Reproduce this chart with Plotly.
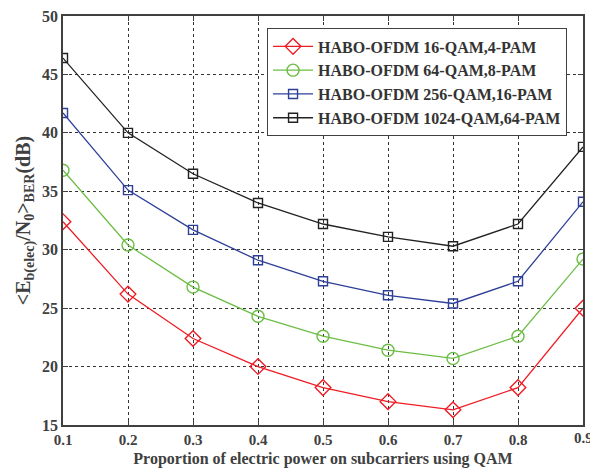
import plotly.graph_objects as go

x_vals = [0.1, 0.2, 0.3, 0.4, 0.5, 0.6, 0.7, 0.8, 0.9]
qam16 = [32.4, 26.2, 22.4, 20.0, 18.2, 17.0, 16.3, 18.2, 25.0]
qam64 = [36.8, 30.4, 26.8, 24.3, 22.6, 21.4, 20.7, 22.6, 29.2]
qam256 = [41.7, 35.1, 31.7, 29.1, 27.3, 26.1, 25.4, 27.3, 34.1]
qam1024 = [46.4, 40.0, 36.5, 34.0, 32.2, 31.1, 30.3, 32.2, 38.8]
names = ["HABO-OFDM 16-QAM,4-PAM", "HABO-OFDM 64-QAM,8-PAM",
         "HABO-OFDM 256-QAM,16-PAM", "HABO-OFDM 1024-QAM,64-PAM"]
colors = ["#ee1c25", "#6cbd45", "#2e3f98", "#222222"]
symbols = ["diamond-open", "circle-open", "square-open", "square-open"]
sizes = [12, 12, 9, 9]
x_ticks = [0.1, 0.2, 0.3, 0.4, 0.5, 0.6, 0.7, 0.8, 0.9]
y_ticks = [15, 20, 25, 30, 35, 40, 45, 50]

fig = go.Figure()
for ys, nm, c, s, sz in zip([qam16, qam64, qam256, qam1024], names, colors, symbols, sizes):
    fig.add_trace(go.Scatter(x=x_vals, y=ys, name=f"<b>{nm}</b>", mode="lines+markers",
                             line=dict(color=c, width=1.3),
                             marker=dict(symbol=s, size=sz, color=c, line=dict(width=1.4, color=c))))

font_fam = "Liberation Serif"
axcol = "#404040"
# last tick label overflows the page edge; draw it as an annotation so it is clipped like the reference
tick_text = [f"<b>{t}</b>" for t in x_ticks[:-1]] + [""]
fig.add_annotation(x=x_ticks[-1], y=0, xref="x", yref="paper", yanchor="top", yshift=-3,
                   text=f"<b>{x_ticks[-1]}</b>", showarrow=False,
                   font=dict(size=15, color=axcol, family=font_fam))
fig.update_layout(
    width=590, height=472,
    margin=dict(l=63, r=7, t=16, b=47, autoexpand=False),
    paper_bgcolor="white", plot_bgcolor="white",
    font=dict(family=font_fam, color=axcol),
    showlegend=True,
    legend=dict(x=0.392, y=0.97, xanchor="left", yanchor="top",
                bgcolor="white", bordercolor="#404040", borderwidth=1.2,
                font=dict(family=font_fam, size=16, color="#333333"),
                tracegroupgap=0, itemwidth=40),
    xaxis=dict(range=[0.1, 0.9], tickvals=x_ticks, ticktext=tick_text,
               showgrid=True, gridcolor="#333333", griddash="dot", gridwidth=1,
               showline=True, linecolor="#404040", linewidth=1.5, mirror="allticks",
               ticks="inside", ticklen=5, tickcolor="#404040", automargin=False,
               tickfont=dict(size=15, color=axcol, family=font_fam), zeroline=False,
               title=dict(text="<b>Proportion of electric power on subcarriers using QAM</b>",
                          font=dict(size=16, color=axcol, family=font_fam), standoff=6)),
    yaxis=dict(range=[15, 50], tickvals=y_ticks, ticktext=[f"<b>{t}</b>" for t in y_ticks],
               showgrid=True, gridcolor="#333333", griddash="dot", gridwidth=1,
               showline=True, linecolor="#404040", linewidth=1.5, mirror="allticks",
               ticks="inside", ticklen=5, tickcolor="#404040", automargin=False,
               tickfont=dict(size=16, color=axcol, family=font_fam), zeroline=False,
               title=dict(text="<b>&lt;E<sub>b(elec)</sub>/N<sub>0</sub>&gt;<sub>BER</sub>(dB)</b>",
                          font=dict(size=20, color=axcol, family=font_fam), standoff=6)),
)
fig.write_html("out.html")
